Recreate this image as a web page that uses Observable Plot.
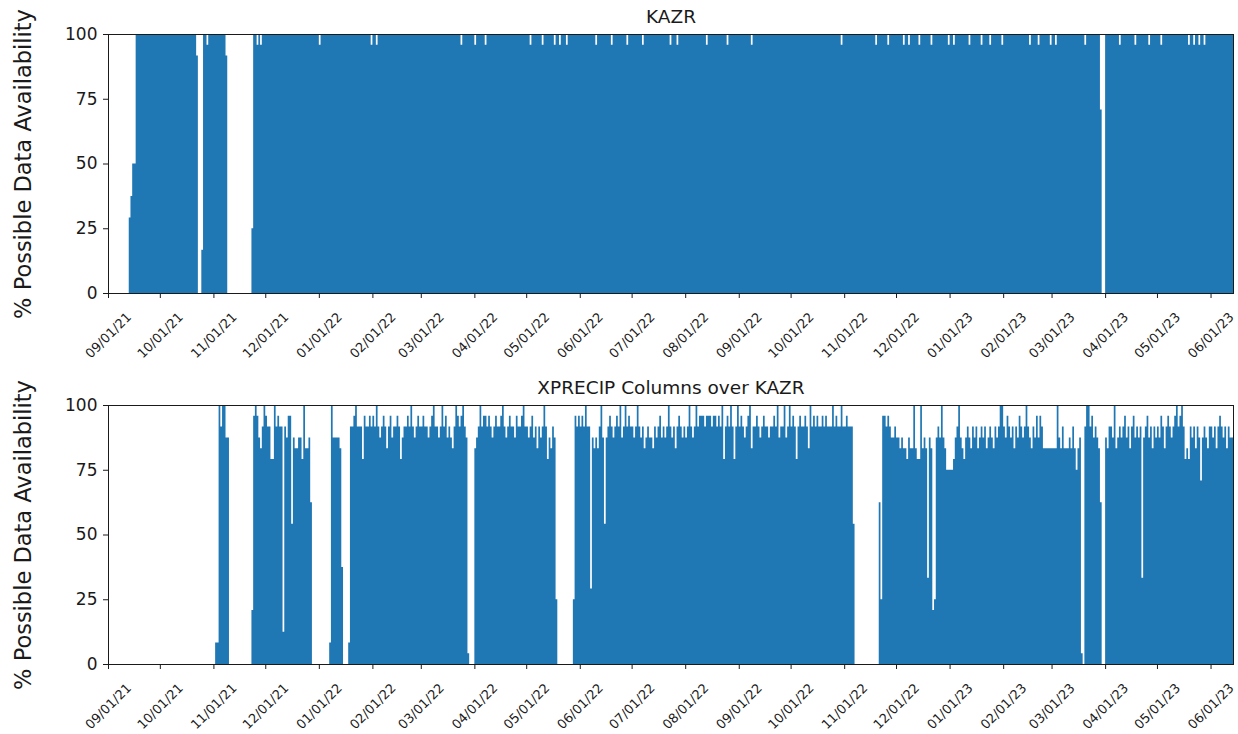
<!DOCTYPE html>
<html>
<head>
<meta charset="utf-8">
<script src="https://cdn.jsdelivr.net/npm/d3@7"></script>
<script src="https://cdn.jsdelivr.net/npm/@observablehq/plot@0.6"></script>
<style>
  body { margin: 0; background: #fff; }
  svg { display: block; }
</style>
</head>
<body>
<div id="chart"></div>
<script>
// ---------- chart texts and axes ----------
const panelTitles = ["KAZR", "XPRECIP Columns over KAZR"];
const yLabel = "% Possible Data Availability";
const xDomain = ["2021-09-01", "2023-06-14"];
const yTicks = [0, 25, 50, 75, 100];
const tickMonths = [
  "2021-09-01", "2021-10-01", "2021-11-01", "2021-12-01", "2022-01-01", "2022-02-01",
  "2022-03-01", "2022-04-01", "2022-05-01", "2022-06-01", "2022-07-01", "2022-08-01",
  "2022-09-01", "2022-10-01", "2022-11-01", "2022-12-01", "2023-01-01", "2023-02-01",
  "2023-03-01", "2023-04-01", "2023-05-01", "2023-06-01"
];

// ---------- KAZR: hours of data per day (out of 24) ----------
// periods with data (first day, last day)
const kazrCoverage = [
  ["2021-09-13", "2021-10-22"],
  ["2021-10-25", "2021-11-08"],
  ["2021-11-23", "2023-03-29"],
  ["2023-04-01", "2023-06-13"]
];
// days inside those periods that are not complete (hours of 24); all others are 24/24
const kazrPartialDays = [
  ["2021-09-13", 7], ["2021-09-14", 9], ["2021-09-15", 12], ["2021-09-16", 12],
  ["2021-10-22", 22], ["2021-10-25", 4], ["2021-10-28", 23], ["2021-11-08", 22],
  ["2021-11-23", 6], ["2021-11-26", 23], ["2021-11-28", 23],
  ["2022-01-01", 23], ["2022-01-31", 23], ["2022-02-03", 23], ["2022-03-24", 23],
  ["2022-04-01", 23], ["2022-04-07", 23],
  ["2022-05-03", 23], ["2022-05-10", 23], ["2022-05-17", 23], ["2022-05-20", 23], ["2022-05-24", 23],
  ["2022-06-10", 23], ["2022-06-19", 23], ["2022-06-28", 23],
  ["2022-07-07", 23], ["2022-07-23", 23], ["2022-07-27", 23],
  ["2022-08-13", 23], ["2022-08-25", 23], ["2022-09-08", 23], ["2022-10-30", 23],
  ["2022-11-19", 23], ["2022-11-26", 23],
  ["2022-12-05", 23], ["2022-12-08", 23], ["2022-12-14", 23], ["2022-12-21", 23], ["2022-12-31", 23],
  ["2023-01-03", 23], ["2023-01-12", 23], ["2023-01-19", 23], ["2023-01-24", 23], ["2023-01-31", 23],
  ["2023-02-16", 23], ["2023-02-21", 23], ["2023-02-28", 23],
  ["2023-03-03", 23], ["2023-03-20", 23], ["2023-03-29", 17],
  ["2023-04-09", 23], ["2023-04-18", 23], ["2023-04-26", 23],
  ["2023-05-03", 23], ["2023-05-19", 23], ["2023-05-22", 23], ["2023-05-25", 23], ["2023-05-28", 23]
];

// ---------- XPRECIP columns over KAZR: hours per day (out of 24), one row per month ----------
const xprecipMonths = [
  "2021-11", "2021-12", "2022-01", "2022-02", "2022-03", "2022-04", "2022-05", "2022-06",
  "2022-07", "2022-08", "2022-09", "2022-10", "2022-11", "2022-12", "2023-01", "2023-02",
  "2023-03", "2023-04", "2023-05", "2023-06"
];
const xprecipHours = [
  [0, 2, 2, 24, 22, 24, 24, 21, 21, 0, 0, 0, 0, 0, 0, 0, 0, 0, 0, 0, 0, 0, 5, 23, 24, 23, 21, 20, 22, 24],
  [23, 22, 22, 19, 19, 24, 22, 23, 22, 22, 3, 22, 21, 23, 23, 13, 21, 20, 20, 21, 21, 19, 24, 20, 20, 21, 15, 0, 0, 0, 0],
  [0, 0, 0, 0, 0, 0, 2, 24, 21, 21, 21, 21, 20, 9, 0, 0, 0, 2, 22, 22, 23, 24, 22, 22, 22, 19, 23, 22, 22, 23, 22],
  [23, 22, 24, 22, 21, 22, 23, 22, 20, 22, 23, 21, 22, 22, 23, 22, 19, 21, 22, 22, 23, 22, 24, 22, 21, 22, 23, 22],
  [22, 23, 22, 22, 21, 22, 23, 24, 22, 22, 21, 22, 24, 22, 23, 21, 22, 21, 20, 22, 24, 23, 22, 23, 24, 22, 21, 1, 0, 0, 0],
  [20, 21, 22, 24, 22, 23, 23, 22, 23, 22, 21, 22, 23, 22, 22, 23, 24, 22, 21, 22, 23, 22, 22, 21, 23, 22, 22, 23, 24, 22],
  [22, 21, 22, 23, 21, 22, 20, 22, 21, 22, 24, 22, 19, 21, 20, 22, 21, 6, 0, 0, 0, 0, 0, 0, 0, 0, 0, 6, 23, 22, 23],
  [22, 23, 22, 24, 22, 22, 7, 21, 20, 21, 20, 22, 24, 21, 13, 21, 22, 23, 22, 21, 22, 23, 22, 24, 21, 22, 24, 22, 23, 22],
  [22, 21, 22, 24, 22, 21, 22, 20, 21, 22, 21, 21, 20, 22, 21, 22, 23, 21, 22, 21, 22, 24, 22, 21, 22, 20, 22, 23, 22, 21, 22],
  [21, 22, 24, 22, 21, 22, 24, 22, 23, 23, 23, 22, 23, 23, 23, 22, 23, 23, 22, 23, 22, 24, 19, 22, 23, 22, 24, 22, 19, 22, 24],
  [22, 23, 22, 21, 22, 23, 24, 20, 22, 22, 23, 22, 21, 22, 23, 22, 22, 21, 22, 22, 23, 22, 24, 21, 22, 22, 24, 21, 22, 24],
  [22, 23, 22, 19, 22, 23, 22, 22, 23, 22, 20, 24, 22, 23, 22, 23, 22, 22, 23, 22, 23, 22, 22, 22, 24, 22, 23, 22, 22, 24, 22],
  [22, 23, 22, 22, 22, 13, 0, 0, 0, 0, 0, 0, 0, 0, 0, 0, 0, 0, 0, 0, 15, 6, 23, 23, 22, 23, 22, 21, 21, 22],
  [21, 21, 20, 21, 20, 20, 19, 21, 20, 20, 24, 20, 19, 19, 24, 20, 21, 20, 8, 21, 20, 5, 6, 21, 22, 21, 24, 21, 20, 18, 18],
  [18, 18, 19, 21, 22, 24, 21, 20, 19, 21, 22, 21, 20, 22, 21, 22, 20, 21, 22, 21, 22, 20, 21, 22, 21, 20, 22, 21, 22, 24, 24],
  [22, 21, 23, 22, 21, 22, 20, 22, 21, 23, 22, 21, 22, 24, 22, 21, 20, 22, 21, 23, 21, 23, 22, 20, 20, 20, 20, 20],
  [20, 20, 20, 24, 21, 20, 22, 20, 20, 20, 21, 20, 22, 20, 18, 20, 21, 1, 0, 22, 24, 24, 22, 23, 21, 22, 21, 20, 15, 0, 0],
  [21, 20, 22, 22, 21, 24, 20, 21, 22, 21, 22, 23, 21, 22, 20, 22, 23, 21, 22, 21, 22, 8, 21, 22, 23, 21, 22, 20, 22, 21],
  [22, 21, 23, 22, 20, 22, 23, 22, 21, 22, 23, 24, 22, 23, 24, 22, 19, 20, 19, 22, 21, 22, 20, 22, 21, 17, 21, 22, 21, 20, 22],
  [22, 21, 22, 20, 22, 23, 22, 21, 22, 20, 22, 21, 21]
];

// ---------- build daily tables (every day of the x range; 0 h = no data) ----------
const parseDay = d3.utcParse("%Y-%m-%d");
const fmtDay = d3.utcFormat("%Y-%m-%d");
const allDays = d3.utcDay.range(parseDay(xDomain[0]), d3.utcDay.offset(parseDay(xDomain[1]), 1));

function toSeries(hoursByDay) {
  // step-after area: each day holds its value until the next day
  return allDays.map(day => ({day, pct: (hoursByDay.get(fmtDay(day)) || 0) / 24 * 100}));
}

function buildKazr() {
  const partial = new Map(kazrPartialDays);
  const m = new Map();
  for (const [a, b] of kazrCoverage) {
    for (const day of d3.utcDay.range(parseDay(a), d3.utcDay.offset(parseDay(b), 1))) {
      const key = fmtDay(day);
      m.set(key, partial.has(key) ? partial.get(key) : 24);
    }
  }
  return toSeries(m);
}

function buildXprecip() {
  const m = new Map();
  xprecipMonths.forEach((mo, i) => {
    const start = parseDay(mo + "-01");
    xprecipHours[i].forEach((h, j) => m.set(fmtDay(d3.utcDay.offset(start, j)), h));
  });
  return toSeries(m);
}

function panel(data, title, {height, marginTop, marginBottom}) {
  const ticks = tickMonths.map(parseDay);
  return Plot.plot({
    width: 1238,
    height,
    marginTop,
    marginBottom,
    marginLeft: 108,
    marginRight: 5,
    style: {
      fontFamily: "'DejaVu Sans', sans-serif",
      fontSize: "17px",
      color: "#1a1a1a",
      background: "#fff",
      overflow: "visible"
    },
    x: {type: "utc", domain: xDomain.map(parseDay)},
    y: {domain: [0, 100]},
    marks: [
      Plot.areaY(data, {
        x: "day",
        y: "pct",
        curve: "step-after",
        fill: "#1f77b4"
      }),
      Plot.frame({stroke: "#1a1a1a", strokeWidth: 1}),
      Plot.axisY({ticks: yTicks, tickSize: 5, tickPadding: 6, fontSize: 17, label: null}),
      Plot.axisX({ticks, tickSize: 5, tickFormat: () => "", label: null}),
      Plot.text(ticks, {
        x: d => d,
        text: d3.utcFormat("%m/%d/%y"),
        frameAnchor: "bottom",
        dy: 42,
        rotate: -45,
        fontSize: 13,
        textAnchor: "middle",
        lineAnchor: "middle"
      }),
      Plot.text([title], {
        text: d => d,
        frameAnchor: "top",
        dy: -17,
        fontSize: 18.5,
        textAnchor: "middle",
        lineAnchor: "middle"
      }),
      Plot.text([yLabel], {
        text: d => d,
        frameAnchor: "left",
        dx: -85,
        rotate: -90,
        fontSize: 22.5,
        textAnchor: "middle",
        lineAnchor: "middle"
      })
    ]
  });
}

const root = document.getElementById("chart");
root.append(panel(buildKazr(), panelTitles[0], {height: 370, marginTop: 34, marginBottom: 77}));
root.append(panel(buildXprecip(), panelTitles[1], {height: 364, marginTop: 35, marginBottom: 70}));
</script>
</body>
</html>
